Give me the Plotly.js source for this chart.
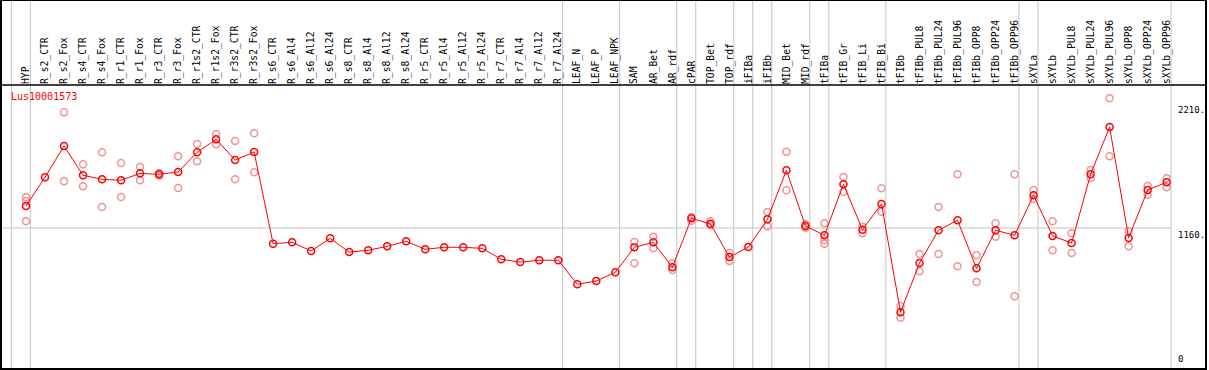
<!DOCTYPE html>
<html><head><meta charset="utf-8">
<script src="https://cdn.plot.ly/plotly-3.0.1.min.js"></script>
<style>html,body{margin:0;padding:0;background:#fff;} #chart{width:1209px;height:370px;}</style>
</head><body><div id="chart"></div>
<script>
const categories = ['HYP','R_s2_CTR','R_s2_Fox','R_s4_CTR','R_s4_Fox','R_r1_CTR','R_r1_Fox','R_r3_CTR','R_r3_Fox',
  'R_r1s2_CTR','R_r1s2_Fox','R_r3s2_CTR','R_r3s2_Fox','R_s6_CTR','R_s6_Al4','R_s6_Al12','R_s6_Al24',
  'R_s8_CTR','R_s8_Al4','R_s8_Al12','R_s8_Al24','R_r5_CTR','R_r5_Al4','R_r5_Al12','R_r5_Al24',
  'R_r7_CTR','R_r7_Al4','R_r7_Al12','R_r7_Al24','LEAF_N','LEAF_P','LEAF_NPK','SAM','AR_Bet','AR_rdf',
  'cPAR','TOP_Bet','TOP_rdf','iFIBa','iFIBb','MID_Bet','MID_rdf','tFIBa','tFIB_Gr','tFIB_Li','tFIB_Bi',
  'tFIBb','tFIBb_PUL8','tFIBb_PUL24','tFIBb_PUL96','tFIBb_OPP8','tFIBb_OPP24','tFIBb_OPP96',
  'sXYLa','sXYLb','sXYLb_PUL8','sXYLb_PUL24','sXYLb_PUL96','sXYLb_OPP8','sXYLb_OPP24','sXYLb_OPP96'];

const meanValues = [1345,1586,1849,1603,1569,1561,1619,1611,1630,1796,1905,1731,1798,
  1028,1040,967,1073,958,973,1006,1048,981,998,998,989,897,874,889,889,
  687,715,788,998,1040,830,1241,1196,916,1000,1233,1645,1177,1099,1527,1146,1362,
  452,866,1141,1225,821,1141,1099,1435,1093,1034,1611,2008,1076,1479,1544];

const rep1 = [1418,null,2132,1695,1796,1706,1672,1622,1762,1866,1947,1891,1955,
  null,null,null,null,null,null,null,null,null,null,null,null,null,null,null,null,
  null,null,null,1042,1087,863,1250,1216,950,null,1294,1801,1191,1199,1588,1171,1493,
  505,942,1336,1611,931,1199,1611,1479,1216,1115,1647,2250,1135,1513,1577];

const rep2 = [1387,null,1552,1510,1336,1420,1561,1599,1496,1720,1863,1569,1628,
  null,null,null,null,null,null,null,null,null,null,null,null,null,null,null,null,
  null,null,null,863,989,807,1221,1183,883,null,1174,1477,1163,1057,1465,1115,1297,
  407,796,942,838,706,1087,586,1404,973,950,1580,1762,1006,1440,1502];

const rep3 = [1216,null,null,null,null,null,null,null,null,null,null,null,null,
  null,null,null,null,null,null,null,null,null,null,null,null,null,null,null,null,
  null,null,null,null,null,null,null,null,null,null,null,null,null,1028,null,null,null,
  null,null,null,null,null,null,null,null,null,null,null,null,null,null,null];

const groupSizes = [1,28,3,3,1,2,1,1,2,1,3,7,1,7];
const yTickValues = [2210, 1160, 0];
const yTickLabels = ['2210.', '1160.', '0'];
const referenceValue = 1160;
const geneName = 'Lus10001573';

const W = 1209, H = 370;
const M = {l: 1, r: 3, t: 85, b: 1};
const plotH = H - M.t - M.b;
const headerTop = 1 + M.t / plotH;
const xRange = [-1.315, 62.07];
const yRange = [-24.4, 2361.2];
const GRID = '#c4c4c4';

const repX = [], repY = [];
[rep1, rep2, rep3].forEach(arr => arr.forEach((v, i) => {
  if (v !== null) { repX.push(categories[i]); repY.push(v); }
}));

const traces = [
  {type: 'scatter', mode: 'markers', x: repX, y: repY, hoverinfo: 'skip',
   marker: {symbol: 'circle-open', size: 7, color: '#ee9494', line: {width: 1.5, color: '#ee9494'}}},
  {type: 'scatter', mode: 'lines+markers', x: categories, y: meanValues,
   line: {color: '#ff0000', width: 1},
   marker: {symbol: 'circle-open', size: 7, color: '#ff0000', line: {width: 1.5, color: '#ff0000'}}}
];

const shapes = [];
let end = -1;
const lineXs = [end + 0.23];
groupSizes.forEach(s => { end += s; lineXs.push(end + 0.23); });
lineXs.forEach(x => shapes.push({type: 'line', xref: 'x', yref: 'paper', x0: x, x1: x, y0: 0, y1: headerTop,
  line: {color: GRID, width: 1}, layer: 'below'}));
shapes.push({type: 'line', xref: 'x', yref: 'y', x0: xRange[0], x1: lineXs[lineXs.length - 1],
  y0: referenceValue, y1: referenceValue, line: {color: GRID, width: 1}, layer: 'below'});
shapes.push({type: 'rect', xref: 'paper', yref: 'paper', x0: 0, x1: 1, y0: 0, y1: headerTop,
  line: {color: '#000', width: 2}});
shapes.push({type: 'line', xref: 'paper', yref: 'paper', x0: 0, x1: 1, y0: 1, y1: 1,
  line: {color: '#000', width: 1.5}});

const annotations = yTickValues.map((v, i) => ({
  xref: 'paper', yref: 'y', x: 1175 / (W - M.l - M.r), y: v, text: yTickLabels[i],
  xanchor: 'left', yanchor: (v - yRange[0]) < 0.05 * (yRange[1] - yRange[0]) ? 'bottom' : 'top',
  showarrow: false, font: {family: 'DejaVu Sans Mono', size: 9, color: '#000'}
}));
annotations.push({xref: 'paper', yref: 'paper', x: 8 / (W - M.l - M.r), y: 1, yshift: -4,
  xanchor: 'left', yanchor: 'top', showarrow: false, text: geneName,
  font: {family: 'DejaVu Sans Mono', size: 10, color: '#ff0000'}});

const layout = {
  width: W, height: H, margin: M, showlegend: false,
  paper_bgcolor: '#fff', plot_bgcolor: '#fff',
  xaxis: {type: 'category', categoryorder: 'array', categoryarray: categories, side: 'top',
    range: xRange, tickangle: -90, ticks: '', showgrid: false, zeroline: false, showline: false,
    automargin: false, tickfont: {family: 'DejaVu Sans Mono', size: 9.7, color: '#000'}},
  yaxis: {range: yRange, showticklabels: false, showgrid: false, zeroline: false, showline: false,
    ticks: '', automargin: false},
  shapes: shapes, annotations: annotations
};

Plotly.newPlot('chart', traces, layout, {staticPlot: true, displayModeBar: false});
</script></body></html>
